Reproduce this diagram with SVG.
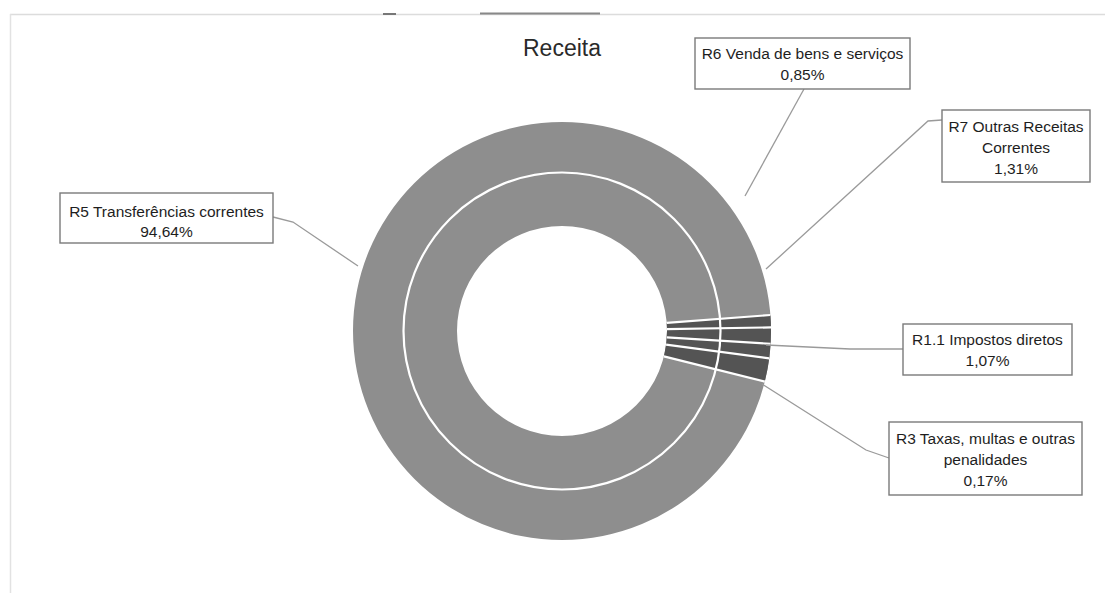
<svg xmlns="http://www.w3.org/2000/svg" width="1105" height="593" viewBox="0 0 1105 593">
<style>
.box{fill:#fff;stroke:#7a7a7a;stroke-width:1.4}
.lbl{font-family:"Liberation Sans",Arial,sans-serif;font-size:15.5px;fill:#1e1e1e;text-anchor:middle}
.lead{fill:none;stroke:#9a9a9a;stroke-width:1.3}
.sep{stroke:#fff;stroke-width:2.2;fill:none}
</style>
<rect x="0" y="0" width="1105" height="593" fill="#fff"/>
<g id="frame">
<line x1="10" y1="14.5" x2="1105" y2="14.5" stroke="#dcdcdc" stroke-width="1.5"/>
<line x1="10.5" y1="14" x2="10.5" y2="593" stroke="#e2e2e2" stroke-width="1.5"/>
<line x1="383" y1="14" x2="396" y2="14" stroke="#777" stroke-width="2"/>
<line x1="480" y1="13.5" x2="600" y2="13.5" stroke="#888" stroke-width="2"/>
</g>
<text id="title" x="562" y="56" font-family="'Liberation Sans',Arial,sans-serif" font-size="23" fill="#2a2a2a" text-anchor="middle">Receita</text>
<g id="donut">
<path d="M 353 331 A 209 209 0 1 0 771 331 A 209 209 0 1 0 353 331 Z M 457 331 A 105 105 0 1 1 667 331 A 105 105 0 1 1 457 331 Z" fill="#8e8e8e" fill-rule="evenodd"/>
<path d="M 666.7 322.9 L 770.4 315.0 A 209 209 0 0 1 764.8 381.6 L 663.9 356.4 A 105 105 0 0 0 666.7 322.9 Z" fill="#545454"/>
<circle cx="562" cy="331" r="158.5" class="sep"/>
<line x1="666.7" y1="322.9" x2="770.4" y2="315.0" class="sep"/>
<line x1="667.0" y1="329.2" x2="771.0" y2="327.4" class="sep"/>
<line x1="666.8" y1="337.4" x2="770.6" y2="343.8" class="sep"/>
<line x1="666.1" y1="344.7" x2="769.2" y2="358.3" class="sep"/>
<line x1="663.9" y1="356.4" x2="764.8" y2="381.6" class="sep"/>
</g>
<g id="connectors">
<polyline class="lead" points="273,217 293,222 358,266"/>
<polyline class="lead" points="804,89 745,196"/>
<polyline class="lead" points="942,120 928,121 766,269"/>
<polyline class="lead" points="766,345 850,349 903,349"/>
<polyline class="lead" points="762,384 866,450 889,458"/>
</g>
<g id="r5">
<rect class="box" x="60" y="193" width="213" height="50"/>
<text class="lbl" x="166.5" y="217">R5 Transferências correntes</text>
<text class="lbl" x="166.5" y="237">94,64%</text>
</g>
<g id="r6">
<rect class="box" x="695" y="38" width="215" height="51"/>
<text class="lbl" x="802.5" y="59">R6 Venda de bens e serviços</text>
<text class="lbl" x="802.5" y="80">0,85%</text>
</g>
<g id="r7">
<rect class="box" x="942" y="110" width="148" height="72"/>
<text class="lbl" x="1016" y="132">R7 Outras Receitas</text>
<text class="lbl" x="1016" y="153">Correntes</text>
<text class="lbl" x="1016" y="174">1,31%</text>
</g>
<g id="r11">
<rect class="box" x="903" y="324" width="169" height="51"/>
<text class="lbl" x="987.5" y="345">R1.1 Impostos diretos</text>
<text class="lbl" x="987.5" y="366">1,07%</text>
</g>
<g id="r3">
<rect class="box" x="889" y="422" width="193" height="73"/>
<text class="lbl" x="985.5" y="444">R3 Taxas, multas e outras</text>
<text class="lbl" x="985.5" y="465">penalidades</text>
<text class="lbl" x="985.5" y="486">0,17%</text>
</g>
</svg>
